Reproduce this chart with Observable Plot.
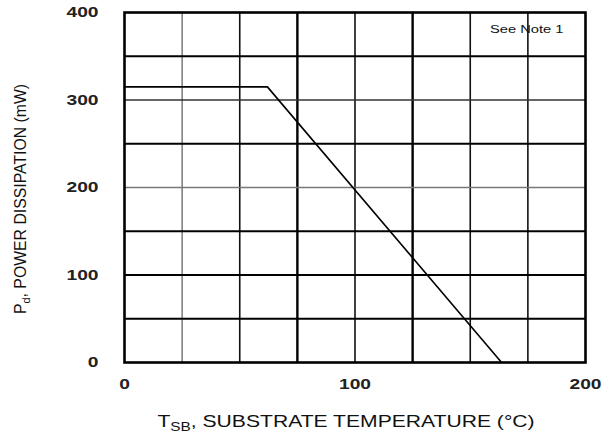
<!DOCTYPE html>
<html>
<head>
<meta charset="utf-8">
<script src="https://cdn.jsdelivr.net/npm/d3@7"></script>
<script src="https://cdn.jsdelivr.net/npm/@observablehq/plot@0.6"></script>
<style>
  html, body { margin: 0; padding: 0; background: #fff; }
  #chart svg { display: block; }
</style>
</head>
<body>
<div id="chart"></div>
<script>
// Derating curve: substrate temperature (°C) vs power dissipation (mW)
const tempC = [0, 62, 163.6];
const powerMW = [315, 315, 0];

// Tick labels
const xTicks = [0, 100, 200];
const yTicks = [0, 100, 200, 300, 400];

// Grid lines
const xGridHeavy = [75, 125];
const xGridMedium = [50, 100, 150, 175];
const xGridLight = [25];
const yGridHeavy = [50, 100, 150, 250, 350];
const yGridMedium = [300];
const yGridLight = [200];

const noteText = "See Note 1";

const curve = tempC.map((t, i) => ({t, p: powerMW[i]}));

const FONT = "Liberation Sans, Arial, sans-serif";
const STRETCH = 1.28;

const plot = Plot.plot({
  width: 603,
  height: 434,
  marginLeft: 124,
  marginRight: 18,
  marginTop: 12,
  marginBottom: 72,
  style: {fontFamily: FONT, background: "#fff"},
  x: {domain: [0, 200], label: null},
  y: {domain: [0, 400], label: null},
  marks: [
    Plot.ruleX(xGridLight, {stroke: "#666", strokeWidth: 1.3}),
    Plot.ruleX(xGridMedium, {stroke: "#111", strokeWidth: 1.6}),
    Plot.ruleX(xGridHeavy, {stroke: "#000", strokeWidth: 2.4}),
    Plot.ruleY(yGridLight, {stroke: "#777", strokeWidth: 1.3}),
    Plot.ruleY(yGridMedium, {stroke: "#333", strokeWidth: 1.3}),
    Plot.ruleY(yGridHeavy, {stroke: "#000", strokeWidth: 2.2}),
    Plot.line(curve, {x: "t", y: "p", stroke: "#000", strokeWidth: 1.6}),
    Plot.frame({stroke: "#000", strokeWidth: 2.6}),
    Plot.text([noteText], {frameAnchor: "top-right", dx: -22, dy: 12, fontSize: 11.5, fill: "#111", textAnchor: "end", text: d => d, className: "stretch"}),
    Plot.axisX(xTicks, {tickSize: 0, tickPadding: 16, fontSize: 15, fontWeight: "bold", fill: "#222", className: "stretch"}),
    Plot.axisY(yTicks, {tickSize: 0, tickPadding: 26, fontSize: 15, fontWeight: "bold", fill: "#222", className: "stretch"})
  ]
});

document.getElementById("chart").appendChild(plot);

const svg = d3.select(plot);

// Widen horizontal text glyphs like the reference (scale about each text's anchor)
svg.selectAll(".stretch text").each(function() {
  const el = d3.select(this);
  let x = parseFloat(el.attr("x"));
  if (!isFinite(x)) x = 0;
  const t = el.attr("transform") || "";
  el.attr("transform", `${t} translate(${x},0) scale(${STRETCH},1) translate(${-x},0)`);
});

// Axis titles with subscripts
const xt = svg.append("text")
  .attr("transform", `translate(346,427) scale(${STRETCH},1)`)
  .attr("text-anchor", "middle")
  .attr("font-size", 16.5)
  .attr("fill", "#111")
  .attr("font-family", FONT);
xt.append("tspan").text("T");
xt.append("tspan").attr("dy", 4).attr("font-size", 12).text("SB");
xt.append("tspan").attr("dy", -4).text(", SUBSTRATE TEMPERATURE (°C)");

const yt = svg.append("text")
  .attr("transform", "translate(26,199) rotate(-90)")
  .attr("text-anchor", "middle")
  .attr("font-size", 15.8)
  .attr("fill", "#111")
  .attr("font-family", FONT);
yt.append("tspan").text("P");
yt.append("tspan").attr("dy", 4).attr("font-size", 11).text("d");
yt.append("tspan").attr("dy", -4).text(", POWER DISSIPATION (mW)");
</script>
</body>
</html>
